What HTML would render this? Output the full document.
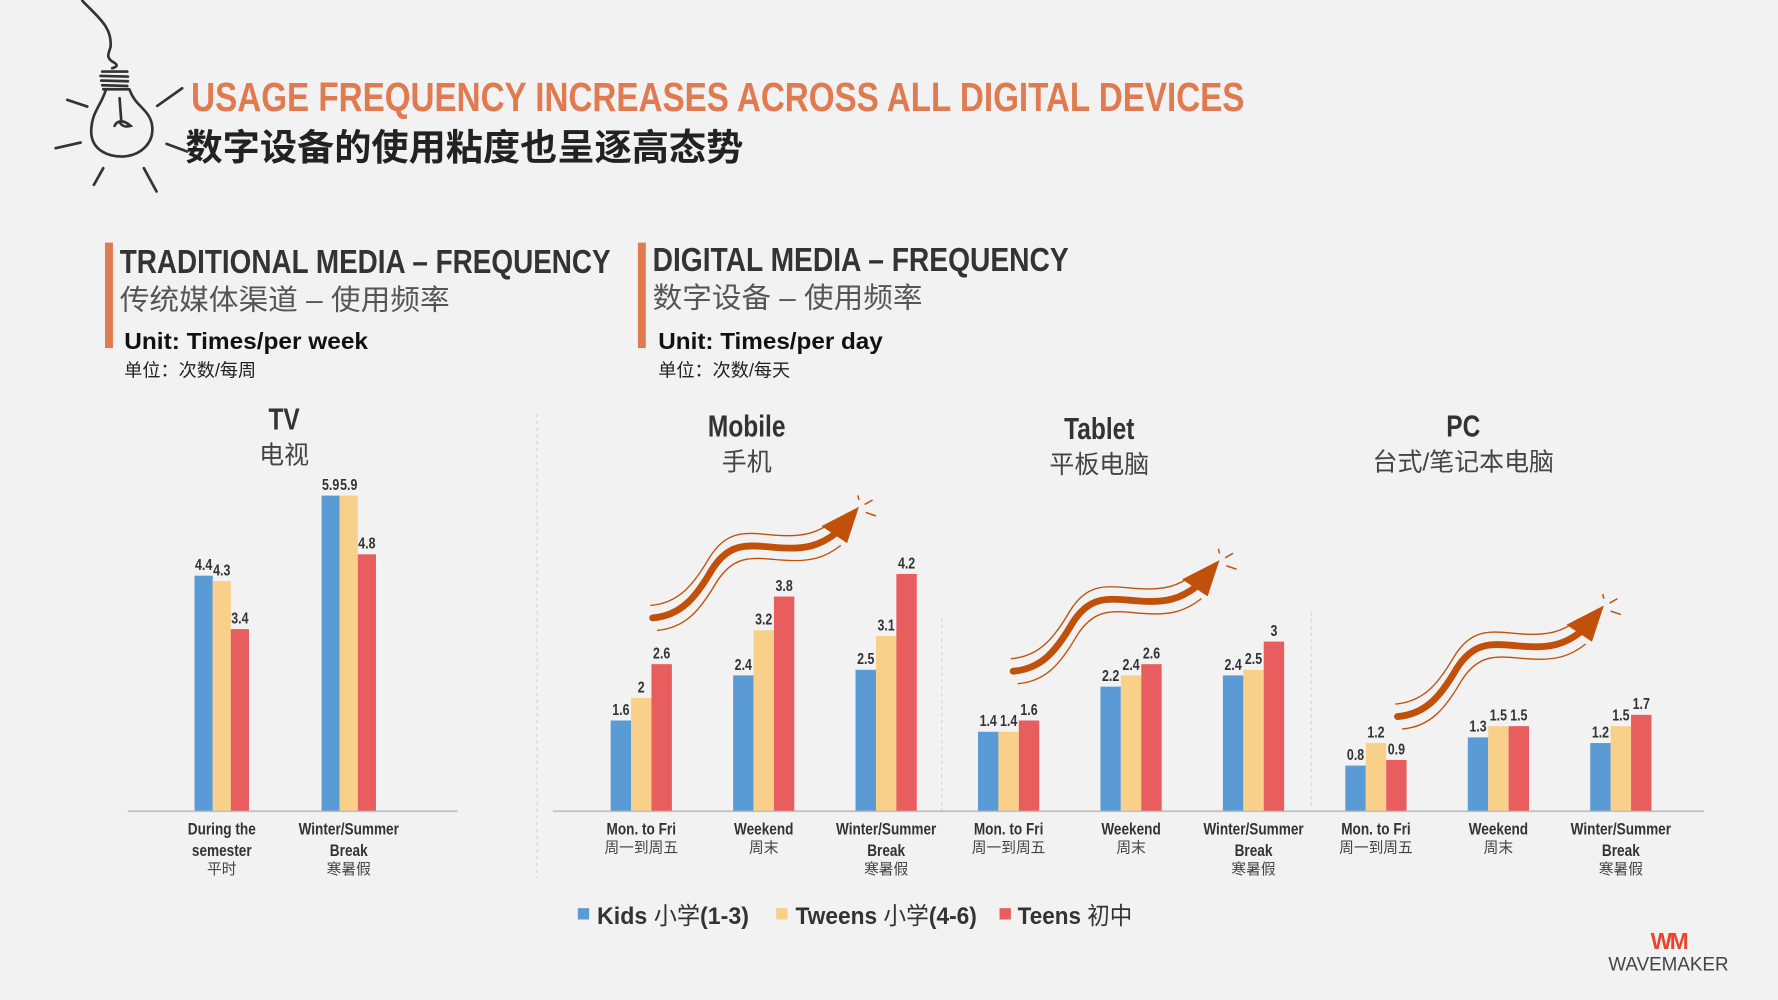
<!DOCTYPE html>
<html><head><meta charset="utf-8">
<style>
html,body{margin:0;padding:0;background:#F2F2F2;}
svg{display:block;}
.c{font-family:"Liberation Sans Narrow","Liberation Sans","Noto Sans CJK SC",sans-serif;}
.cj{font-family:"Liberation Sans","Noto Sans CJK SC",sans-serif;}
</style></head>
<body>
<svg id="chart" width="1778" height="1000" viewBox="0 0 1567 882" xmlns="http://www.w3.org/2000/svg">
<rect x="0" y="0" width="1567" height="882" fill="#F2F2F2"/>

<g transform="scale(0.8813) translate(40,0) scale(0.3333)" fill="none" stroke="#333" stroke-width="8" stroke-linecap="round">
<path d="M125,2 C170,50 215,80 210,140 C205,160 195,170 215,185 C235,195 230,200 215,205"/>
<path d="M185,215 L260,215 M180,228 L262,230 M182,242 L262,244 M185,256 L260,258 M188,268 L266,268"/>
<path d="M195,272 C180,320 150,340 152,400 C155,450 200,470 245,470 C300,468 340,430 335,380 C330,330 285,320 268,272"/>
<path d="M237,295 L242,362 M222,378 C230,360 250,360 270,378 C255,382 245,380 238,368"/>
<path d="M80,300 L140,320 M45,445 L120,428 M160,555 L188,505 M310,505 L348,575 M378,432 L440,455 M350,318 L425,265"/>
</g>

<text x="168" y="98" class="cj" font-size="36" font-weight="bold" fill="#E07A50" textLength="929" lengthAdjust="spacingAndGlyphs">USAGE FREQUENCY INCREASES ACROSS ALL DIGITAL DEVICES</text>
<text x="163" y="141" class="cj" font-size="32" font-weight="bold" fill="#222" textLength="492" lengthAdjust="spacingAndGlyphs">数字设备的使用粘度也呈逐高态势</text>

<rect x="92" y="214" width="7" height="93" fill="#E07A50"/>
<text x="105" y="241" class="cj" font-size="29" font-weight="bold" fill="#333" textLength="433" lengthAdjust="spacingAndGlyphs">TRADITIONAL MEDIA – FREQUENCY</text>
<text x="105" y="273" class="cj" font-size="25" fill="#555" textLength="291" lengthAdjust="spacingAndGlyphs">传统媒体渠道 – 使用频率</text>
<text x="109" y="308" class="cj" font-size="20" font-weight="bold" fill="#111" textLength="215" lengthAdjust="spacingAndGlyphs">Unit: Times/per week</text>
<text x="109" y="332" class="cj" font-size="16" fill="#222">单位：次数/每周</text>

<rect x="562" y="214" width="7" height="93" fill="#E07A50"/>
<text x="575" y="239" class="cj" font-size="29" font-weight="bold" fill="#333" textLength="367" lengthAdjust="spacingAndGlyphs">DIGITAL MEDIA – FREQUENCY</text>
<text x="575" y="271" class="cj" font-size="25" fill="#555" textLength="238" lengthAdjust="spacingAndGlyphs">数字设备 – 使用频率</text>
<text x="580" y="308" class="cj" font-size="20" font-weight="bold" fill="#111" textLength="198" lengthAdjust="spacingAndGlyphs">Unit: Times/per day</text>
<text x="580" y="332" class="cj" font-size="16" fill="#222">单位：次数/每天</text>

<line x1="473" y1="365" x2="473" y2="775" stroke="#D5D5D5" stroke-dasharray="3,3"/>
<line x1="830" y1="545" x2="830" y2="715" stroke="#D5D5D5" stroke-dasharray="3,3"/>
<line x1="1156" y1="540" x2="1156" y2="715" stroke="#D5D5D5" stroke-dasharray="3,3"/>

<line x1="112" y1="715.5" x2="403" y2="715.5" stroke="#BFBFBF" stroke-width="1.5"/>
<line x1="487" y1="715.5" x2="1502" y2="715.5" stroke="#BFBFBF" stroke-width="1.5"/>

<g id="marks"></g>

<g>
<rect x="509" y="801" width="10" height="10" fill="#5B9BD5"/>
<text x="526" y="815" class="cj" font-size="21" font-weight="bold" fill="#333" textLength="134" lengthAdjust="spacingAndGlyphs">Kids <tspan font-weight="normal">小学</tspan>(1-3)</text>
<rect x="684" y="801" width="10" height="10" fill="#F8D08A"/>
<text x="701" y="815" class="cj" font-size="21" font-weight="bold" fill="#333" textLength="160" lengthAdjust="spacingAndGlyphs">Tweens <tspan font-weight="normal">小学</tspan>(4-6)</text>
<rect x="881" y="801" width="10" height="10" fill="#E85D5E"/>
<text x="897" y="815" class="cj" font-size="21" font-weight="bold" fill="#333" textLength="101" lengthAdjust="spacingAndGlyphs">Teens <tspan font-weight="normal">初中</tspan></text>
</g>

<g>
<text x="1471" y="837" text-anchor="middle" font-family="Liberation Sans, sans-serif" font-size="20" font-weight="bold" fill="#E8452C" letter-spacing="-2">WM</text>
<text x="1471" y="856" text-anchor="middle" font-family="Liberation Sans, sans-serif" font-size="17" fill="#444" textLength="106" lengthAdjust="spacingAndGlyphs">WAVEMAKER</text>
</g>
</svg>

<script>
// TV data
const tvCategories = ["During the|semester", "Winter/Summer|Break"];
const tvCategoriesCn = ["平时", "寒暑假"];
const tvKids = [4.4, 5.9];
const tvTweens = [4.3, 5.9];
const tvTeens = [3.4, 4.8];

// Digital data (Mobile, Tablet, PC; each Mon-Fri, Weekend, Break)
const digCategories = ["Mon. to Fri", "Weekend", "Winter/Summer|Break", "Mon. to Fri", "Weekend", "Winter/Summer|Break", "Mon. to Fri", "Weekend", "Winter/Summer|Break"];
const digCategoriesCn = ["周一到周五", "周末", "寒暑假", "周一到周五", "周末", "寒暑假", "周一到周五", "周末", "寒暑假"];
const digKids = [1.6, 2.4, 2.5, 1.4, 2.2, 2.4, 0.8, 1.3, 1.2];
const digTweens = [2, 3.2, 3.1, 1.4, 2.4, 2.5, 1.2, 1.5, 1.5];
const digTeens = [2.6, 3.8, 4.2, 1.6, 2.6, 3, 0.9, 1.5, 1.7];

const deviceTitles = ["TV", "Mobile", "Tablet", "PC"];
const deviceTitlesCn = ["电视", "手机", "平板电脑", "台式/笔记本电脑"];

const NS = "http://www.w3.org/2000/svg";
const marks = document.getElementById("marks");
const colors = ["#5B9BD5", "#F8D08A", "#E85D5E"];
const seriesNames = ["kids", "tweens", "teens"];
const baseY = 715;
function tvY(v) { return baseY - v * 47.1; }
function tvX(i) { return 195 + i * 112; }
function digY(v) { return baseY - v * 49.7; }
function digX(i) { return 565 + i * 108; }

function mk(tag, attrs) {
  const e = document.createElementNS(NS, tag);
  for (const k in attrs) e.setAttribute(k, attrs[k]);
  marks.appendChild(e);
  return e;
}
function narrow(t, f) {
  const w = t.getComputedTextLength();
  if (w > 0) {
    t.setAttribute("textLength", (w * f).toFixed(1));
    t.setAttribute("lengthAdjust", "spacingAndGlyphs");
  }
}

function drawChart(cats, catsCn, series, xf, yf, bw, prefix) {
  cats.forEach((c, i) => {
    const cx = xf(i);
    series.forEach((s, j) => {
      const v = s[i];
      const x = cx - 1.5 * bw + j * bw;
      const r = mk("rect", {x: x, y: yf(v), width: bw, height: baseY - yf(v), fill: colors[j]});
      
      
      const t = mk("text", {x: x + bw / 2, y: yf(v) - 5, "text-anchor": "middle", "font-size": "14", "font-weight": "bold", fill: "#333", "class": "cj"});
      t.textContent = String(v);
      
      
      narrow(t, 0.78);
    });
    const lines = c.split("|");
    let y = 736;
    lines.forEach(l => {
      const t = mk("text", {x: cx, y: y, "text-anchor": "middle", "font-size": "15", "font-weight": "bold", fill: "#333", "class": "cj"});
      t.textContent = l;
      
      
      narrow(t, 0.8);
      y += 19;
    });
    const t2 = mk("text", {x: cx, y: y - 3, "text-anchor": "middle", "font-size": "13", fill: "#444", "class": "cj"});
    t2.textContent = catsCn[i];
    
    
  });
}
drawChart(tvCategories, tvCategoriesCn, [tvKids, tvTweens, tvTeens], tvX, tvY, 16, "tv");
drawChart(digCategories, digCategoriesCn, [digKids, digTweens, digTeens], digX, digY, 18, "digital");

// titles
const titleX = [250, 658, 969, 1290];
const titleY = [379, 385, 387, 385];
deviceTitles.forEach((d, i) => {
  const t = mk("text", {x: titleX[i], y: titleY[i], "text-anchor": "middle", "font-size": "27", "font-weight": "bold", fill: "#333", "class": "cj"});
  t.textContent = d;
  
  
  narrow(t, 0.8);
  const t2 = mk("text", {x: titleX[i], y: titleY[i] + 30, "text-anchor": "middle", "font-size": "22", fill: "#444", "class": "cj"});
  t2.textContent = deviceTitlesCn[i];
  
  
});

// wavy arrows
const arrowStarts = [[575, 545], [893, 592], [1232, 632]];
arrowStarts.forEach(([sx, sy]) => {
  const g = document.createElementNS(NS, "g");
  g.setAttribute("transform", "translate(" + sx + "," + sy + ")");
  
  
  marks.appendChild(g);
  const p = "M0,0 C25,-2 38,-18 52,-42 C68,-68 85,-64 110,-62 C135,-60 148,-64 162,-75";
  g.innerHTML =
    '<path d="' + p + '" fill="none" stroke="#C0500A" stroke-width="6" stroke-linecap="round"/>' +
    '<path d="' + p + '" transform="translate(-2,-11)" fill="none" stroke="#C0500A" stroke-width="1.2"/>' +
    '<path d="' + p + '" transform="translate(4,11)" fill="none" stroke="#C0500A" stroke-width="1.2"/>' +
    '<polygon points="149,-81 182,-98 171.5,-66" fill="#C0500A"/>' +
    '<path d="M181,-108 L182,-104 M187,-100 L194,-104 M188,-93 L197,-90" stroke="#C0500A" stroke-width="1.3"/>';
});
</script>
</body></html>
